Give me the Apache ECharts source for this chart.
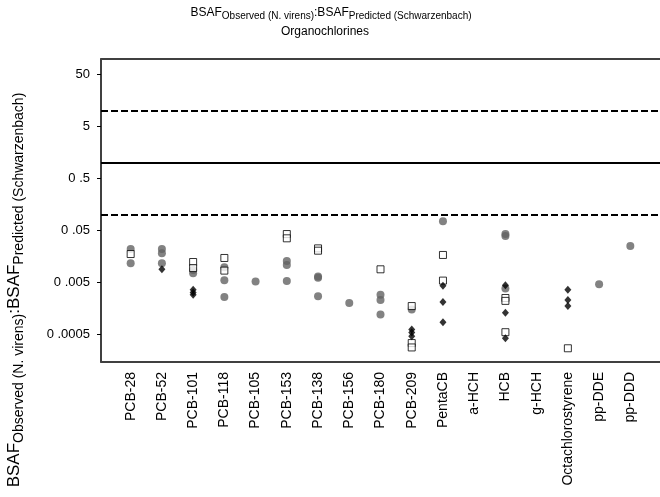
<!DOCTYPE html>
<html>
<head>
<meta charset="utf-8">
<script src="https://cdn.jsdelivr.net/npm/echarts@6/dist/echarts.min.js"></script>
<style>
html,body{margin:0;padding:0;background:#fff;}
#chart{width:660px;height:497px;}
</style>
</head>
<body>
<div id="chart"></div>
<script>
// ---- data ----
const categories = ['PCB-28','PCB-52','PCB-101','PCB-118','PCB-105','PCB-153','PCB-138','PCB-156','PCB-180','PCB-209','PentaCB','a-HCH','HCB','g-HCH','Octachlorostyrene','pp-DDE','pp-DDD'];

// grey filled circles, one list per category
const circleValues = [
  [0.0219, 0.0116],
  [0.0219, 0.0181, 0.0116],
  [0.0086, 0.0075],
  [0.0097, 0.0055, 0.0026],
  [0.0052],
  [0.0128, 0.0108, 0.0053],
  [0.0065, 0.0061, 0.0027],
  [0.0020],
  [0.0029, 0.0023, 0.0012],
  [0.0015],
  [0.075],
  [],
  [0.0424, 0.0389, 0.0038],
  [],
  [],
  [0.0046],
  [0.025]
];

// open squares
const squareValues = [
  [0.0175],
  [],
  [0.0123, 0.0094],
  [0.0147, 0.0084],
  [],
  [0.0424, 0.0351],
  [0.0225, 0.0203],
  [],
  [0.0089],
  [0.00175, 0.00034, 0.00028],
  [0.0168, 0.0054],
  [],
  [0.0025, 0.0022, 0.00055],
  [],
  [0.00027],
  [],
  []
];

// black diamonds
const diamondValues = [
  [],
  [0.0089],
  [0.0036, 0.0032, 0.0029],
  [],
  [],
  [],
  [],
  [],
  [],
  [0.00062, 0.00054, 0.00046],
  [0.0043, 0.0021, 0.00085],
  [],
  [0.0044, 0.0013, 0.00042],
  [],
  [0.0036, 0.0023, 0.00175],
  [],
  []
];

const yTickValues = [0.0005, 0.005, 0.05, 0.5, 5, 50];
const yTickLabels = ['0 .0005', '0 .005', '0 .05', '0 .5', '5', '50'];
const refLineValues = [10, 1, 0.1];

const yMin = 0.000147;
const yMax = 98.4;

// ---- build ----
function toPoints(lists) {
  const pts = [];
  lists.forEach((vals, i) => vals.forEach(v => pts.push([i, v])));
  return pts;
}
const FONT = 'Liberation Sans, Arial, sans-serif';
const xMin = -0.95, xMax = categories.length - 1 + 0.95;

const chart = echarts.init(document.getElementById('chart'), null, {renderer: 'canvas'});
chart.setOption({
  animation: false,
  backgroundColor: '#fff',
  grid: {left: 101, top: 59, right: 0, bottom: 135, containLabel: false},
  xAxis: [{
    type: 'value', min: xMin, max: xMax, position: 'bottom',
    axisLine: {show: true, onZero: false, lineStyle: {color: '#404040', width: 2}},
    axisTick: {show: false},
    splitLine: {show: false},
    axisLabel: {
      customValues: categories.map((c, i) => i),
      formatter: v => categories[Math.round(v)] || '',
      rotate: 90, fontSize: 14, color: '#000', fontFamily: FONT, margin: 10
    }
  }, {
    type: 'value', min: xMin, max: xMax, position: 'top',
    axisLine: {show: true, onZero: false, lineStyle: {color: '#404040', width: 2}},
    axisTick: {show: false}, axisLabel: {show: false}, splitLine: {show: false}
  }],
  yAxis: [{
    type: 'log', min: yMin, max: yMax, logBase: 10, position: 'left',
    axisLine: {show: true, onZero: false, lineStyle: {color: '#000', width: 1.5}},
    axisTick: {show: false}, axisLabel: {show: false}, splitLine: {show: false}, minorSplitLine: {show: false}
  }, {
    type: 'value', position: 'left', offset: 0,
    min: Math.log10(yMin), max: Math.log10(yMax),
    axisLine: {show: false, onZero: false},
    splitLine: {show: false},
    axisTick: {show: true, inside: false, length: 4, customValues: yTickValues.map(v => Math.log10(v)), lineStyle: {color: '#000', width: 1}},
    axisLabel: {
      customValues: yTickValues.map(v => Math.log10(v)),
      formatter: v => {
        const i = yTickValues.findIndex(t => Math.abs(Math.log10(t) - v) < 1e-6);
        return i >= 0 ? yTickLabels[i] : '';
      },
      fontSize: 13, color: '#000', fontFamily: FONT, margin: 11
    }
  }],
  graphic: [{
    type: 'text', x: 331, y: 14,
    style: {
      text: '{b|BSAF}{s|Observed (N. virens)}{b|:BSAF}{s|Predicted (Schwarzenbach)}',
      align: 'center', verticalAlign: 'middle', fill: '#000',
      rich: {
        b: {fontSize: 12, fontFamily: FONT, fill: '#000', padding: [0, 0, 3, 0], verticalAlign: 'bottom'},
        s: {fontSize: 10, fontFamily: FONT, fill: '#000', verticalAlign: 'bottom'}
      }
    }
  }, {
    type: 'text', x: 325, y: 32,
    style: {text: 'Organochlorines', align: 'center', verticalAlign: 'middle', fontSize: 12, fontFamily: FONT, fill: '#000'}
  }, {
    type: 'text', x: 16, y: 290, rotation: Math.PI / 2,
    style: {
      text: '{b|BSAF}{s|Observed (N. virens)}{b|:BSAF}{s|Predicted (Schwarzenbach)}',
      align: 'center', verticalAlign: 'middle', fill: '#000',
      rich: {
        b: {fontSize: 17, fontFamily: FONT, fill: '#000', padding: [0, 0, 4, 0], verticalAlign: 'bottom'},
        s: {fontSize: 14, fontFamily: FONT, fill: '#000', verticalAlign: 'bottom'}
      }
    }
  }],
  series: [{
    name: 'circles', type: 'scatter', xAxisIndex: 0, yAxisIndex: 0,
    symbol: 'circle', symbolSize: 8,
    itemStyle: {color: '#636363'},
    data: toPoints(circleValues),
    markLine: {
      silent: true, symbol: 'none', label: {show: false},
      data: refLineValues.map(v => ({
        yAxis: v,
        lineStyle: v === 1 ? {type: 'solid', color: '#000', width: 2} : {type: [7, 3], color: '#000', width: 2}
      }))
    }
  }, {
    name: 'squares', type: 'scatter', xAxisIndex: 0, yAxisIndex: 0,
    symbol: 'rect', symbolSize: 7,
    itemStyle: {color: '#fff', borderColor: '#000', borderWidth: 1},
    data: toPoints(squareValues)
  }, {
    name: 'diamonds', type: 'scatter', xAxisIndex: 0, yAxisIndex: 0,
    symbol: 'diamond', symbolSize: [7, 8],
    itemStyle: {color: '#000'},
    data: toPoints(diamondValues)
  }]
});
</script>
</body>
</html>
